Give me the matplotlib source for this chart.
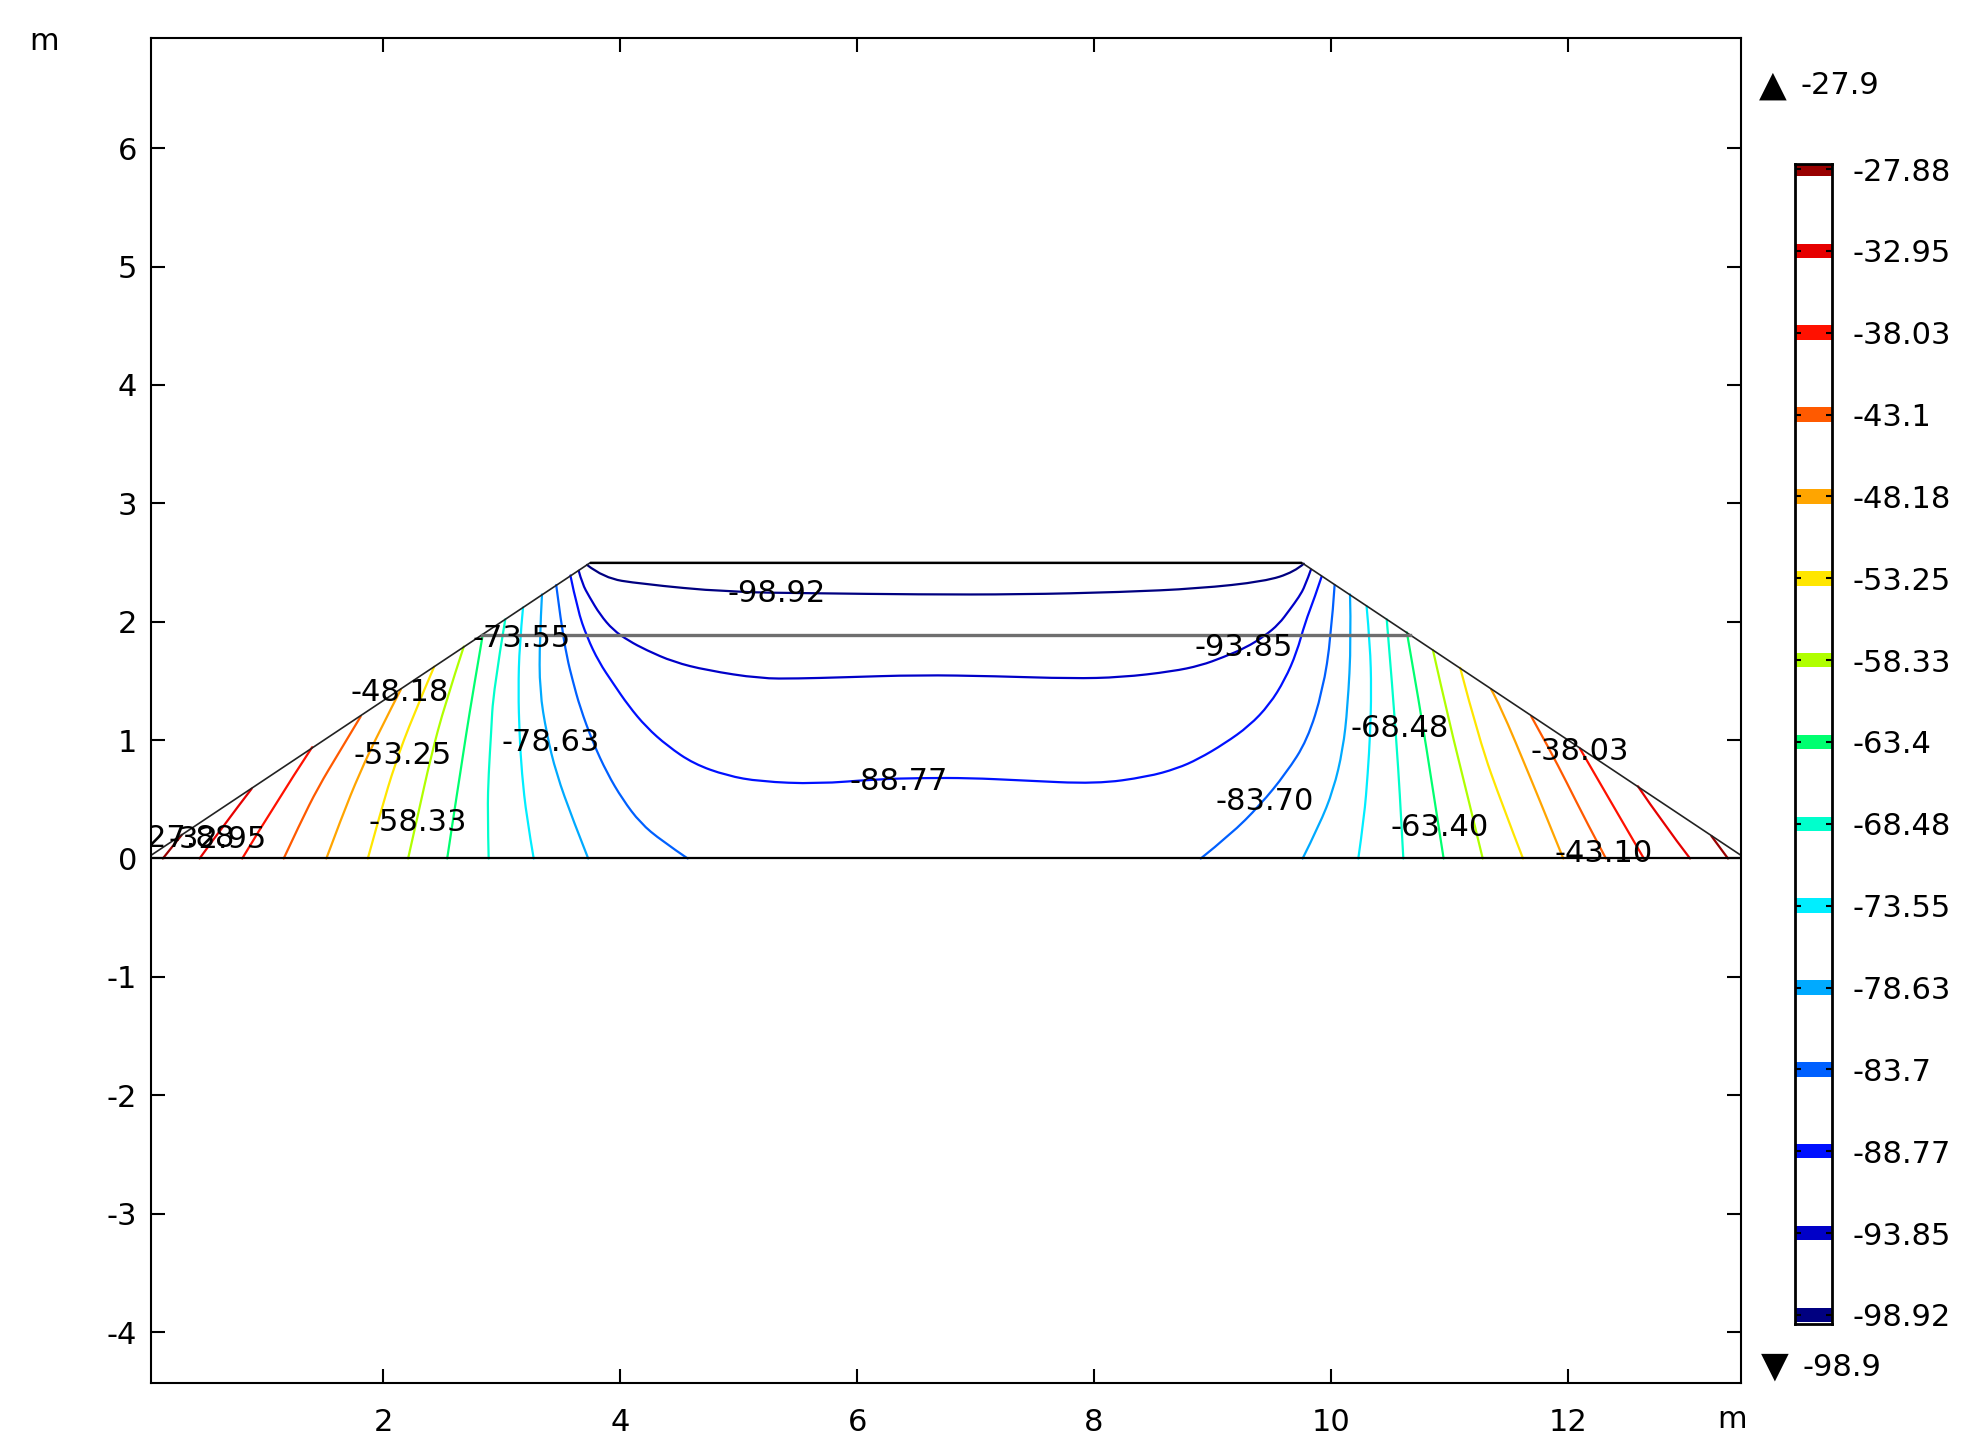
import numpy as np
import matplotlib.pyplot as plt
from matplotlib.path import Path
from matplotlib.patches import PathPatch

# contour levels (colour legend, top to bottom) and their colours
levels = [-27.88, -32.95, -38.03, -43.1, -48.18, -53.25, -58.33, -63.4,
          -68.48, -73.55, -78.63, -83.7, -88.77, -93.85, -98.92]
level_labels = ["-27.88", "-32.95", "-38.03", "-43.1", "-48.18", "-53.25", "-58.33",
                "-63.4", "-68.48", "-73.55", "-78.63", "-83.7", "-88.77", "-93.85", "-98.92"]
level_colors = ["#990000", "#e60000", "#ff1100", "#ff5a00", "#ffa500", "#ffe600", "#b0ff00",
                "#00ff70", "#00ffcc", "#00eeff", "#00aaff", "#0060ff", "#0010ff", "#0000c8", "#000080"]
max_text = "-27.9"
min_text = "-98.9"

# dam geometry (m)
dam_x = [0.0, 3.75, 9.75, 13.5]
dam_y = [0.0, 2.5, 2.5, 0.0]
layer_x = [2.835, 10.665]
layer_y = [1.89, 1.89]

# contour lines, (x, y) in m
# upstream (left) slope
c27_88_l = [(0.14, 0.0), (0.22, 0.10), (0.30, 0.20)]
c32_95_l = [(0.45, 0.0), (0.66, 0.29), (0.89, 0.59)]
c38_03_l = [(0.81, 0.0), (1.08, 0.45), (1.40, 0.94)]
c43_10_l = [(1.16, 0.0), (1.30, 0.30), (1.45, 0.60), (1.63, 0.90), (1.81, 1.20)]
c48_18_l = [(1.52, 0.0), (1.65, 0.35), (1.80, 0.72), (1.97, 1.08), (2.15, 1.43)]
c53_25_l = [(1.87, 0.0), (1.98, 0.40), (2.10, 0.80), (2.25, 1.20), (2.43, 1.62)]
c58_33_l = [(2.21, 0.0), (2.30, 0.40), (2.40, 0.85), (2.52, 1.30), (2.68, 1.79)]
c63_40_l = [(2.54, 0.0), (2.60, 0.40), (2.65, 0.72), (2.70, 1.05), (2.76, 1.42), (2.84, 1.89)]
c68_48_l = [(2.89, 0.0), (2.88, 0.40), (2.89, 0.72), (2.91, 1.05), (2.93, 1.42), (3.03, 2.02)]
c73_55_l = [(3.27, 0.0), (3.21, 0.35), (3.17, 0.72), (3.15, 1.05), (3.14, 1.42), (3.15, 1.80), (3.18, 2.12)]
c78_63_l = [(3.73, 0.0), (3.60, 0.33), (3.46, 0.72), (3.38, 1.05), (3.32, 1.42), (3.32, 1.85), (3.34, 2.23)]
c83_70_l = [(4.57, 0.0), (4.35, 0.15), (4.17, 0.30), (4.02, 0.50), (3.89, 0.72), (3.77, 0.98),
            (3.66, 1.28), (3.60, 1.50), (3.55, 1.70), (3.50, 2.00), (3.46, 2.31)]

# crest / core lines crossing the section
c88_77 = [(3.58, 2.39), (3.64, 2.10), (3.72, 1.87), (3.82, 1.66), (3.94, 1.48), (4.07, 1.29),
          (4.22, 1.11), (4.40, 0.95), (4.62, 0.80), (4.90, 0.70), (5.18, 0.65), (5.66, 0.63),
          (6.17, 0.67), (6.55, 0.68), (6.95, 0.68), (7.38, 0.66), (8.02, 0.63), (8.45, 0.69),
          (8.70, 0.76), (8.88, 0.84), (9.10, 0.97), (9.31, 1.12), (9.48, 1.30), (9.61, 1.51),
          (9.71, 1.74), (9.78, 1.99), (9.86, 2.20), (9.92, 2.38)]
c93_85 = [(3.65, 2.43), (3.68, 2.32), (3.74, 2.21), (3.83, 2.06), (3.94, 1.93), (4.07, 1.84),
          (4.22, 1.76), (4.45, 1.66), (4.73, 1.59), (5.18, 1.52), (5.50, 1.52), (5.87, 1.53),
          (6.52, 1.55), (7.16, 1.54), (7.81, 1.52), (8.23, 1.53), (8.66, 1.58), (8.90, 1.63),
          (9.09, 1.70), (9.28, 1.78), (9.44, 1.88), (9.56, 1.98), (9.65, 2.10), (9.73, 2.21),
          (9.78, 2.30), (9.83, 2.44)]
c98_92 = [(3.72, 2.48), (3.86, 2.37), (4.17, 2.32), (4.90, 2.25), (5.66, 2.24), (6.52, 2.23),
          (7.38, 2.23), (8.23, 2.25), (8.88, 2.28), (9.44, 2.34), (9.69, 2.42), (9.77, 2.49)]

# downstream (right) slope
c83_70_r = [(8.90, 0.0), (9.15, 0.20), (9.40, 0.45), (9.62, 0.72), (9.80, 1.00), (9.93, 1.42),
            (10.00, 1.87), (10.03, 2.31)]
c78_63_r = [(9.76, 0.0), (9.90, 0.28), (10.02, 0.58), (10.10, 0.92), (10.14, 1.28), (10.17, 1.85),
            (10.16, 2.23)]
c73_55_r = [(10.23, 0.0), (10.28, 0.35), (10.31, 0.72), (10.33, 1.05), (10.34, 1.42), (10.33, 1.80),
            (10.30, 2.13)]
c68_48_r = [(10.61, 0.0), (10.59, 0.36), (10.57, 0.72), (10.52, 1.42), (10.47, 2.02)]
c63_40_r = [(10.95, 0.0), (10.86, 0.58), (10.75, 1.28), (10.64, 1.91)]
c58_33_r = [(11.28, 0.0), (11.14, 0.58), (11.00, 1.14), (10.86, 1.76)]
c53_25_r = [(11.62, 0.0), (11.45, 0.44), (11.25, 1.00), (11.09, 1.61)]
c48_18_r = [(11.96, 0.0), (11.83, 0.32), (11.70, 0.64), (11.42, 1.31), (11.35, 1.43)]
c43_10_r = [(12.32, 0.0), (12.15, 0.32), (11.99, 0.64), (11.84, 0.93), (11.69, 1.20)]
c38_03_r = [(12.64, 0.0), (12.32, 0.55), (12.10, 0.93)]
c32_95_r = [(13.03, 0.0), (12.80, 0.30), (12.59, 0.61)]
c27_88_r = [(13.35, 0.0), (13.21, 0.19)]

# inline labels
label_text = ["-27.88", "-32.95", "-38.03", "-43.10", "-48.18", "-53.25", "-58.33", "-63.40",
              "-68.48", "-73.55", "-78.63", "-83.70", "-88.77", "-93.85", "-98.92"]
label_x = [0.33, 0.60, 12.10, 12.30, 2.14, 2.16, 2.29, 10.92, 10.58, 3.17, 3.41, 9.44, 6.35, 9.26, 5.32]
label_y = [0.17, 0.16, 0.90, 0.04, 1.40, 0.87, 0.30, 0.26, 1.10, 1.86, 0.98, 0.48, 0.65, 1.78, 2.24]

lines = [
    [c27_88_l, c27_88_r], [c32_95_l, c32_95_r], [c38_03_l, c38_03_r], [c43_10_l, c43_10_r],
    [c48_18_l, c48_18_r], [c53_25_l, c53_25_r], [c58_33_l, c58_33_r], [c63_40_l, c63_40_r],
    [c68_48_l, c68_48_r], [c73_55_l, c73_55_r], [c78_63_l, c78_63_r], [c83_70_l, c83_70_r],
    [c88_77], [c93_85], [c98_92],
]

plt.rcParams['font.family'] = ['DejaVu Sans']
plt.rcParams['axes.unicode_minus'] = False
FS = 22
W, H = 1971, 1450


def smooth_path(pts):
    # quadratic segments through the midpoints, read points used as control points
    p = np.array(pts, dtype=float)
    if len(p) < 3:
        return Path(p)
    verts = [p[0]]
    codes = [Path.MOVETO]
    for i in range(1, len(p) - 1):
        end = p[i + 1] if i == len(p) - 2 else (p[i] + p[i + 1]) / 2
        verts += [p[i], end]
        codes += [Path.CURVE3, Path.CURVE3]
    return Path(verts, codes)


fig = plt.figure(figsize=(W / 100, H / 100), dpi=100)
ax = fig.add_axes([151 / W, 1 - 1383 / H, 1590 / W, 1345 / H])

for col, pieces in zip(level_colors, lines):
    for pts in pieces:
        ax.add_patch(PathPatch(smooth_path(pts), fill=False, edgecolor=col, lw=1.6,
                               capstyle='round', joinstyle='round'))

# geometry
ax.plot(dam_x, dam_y, color='#222222', lw=1.2)
ax.plot(dam_x[1:3], dam_y[1:3], color='black', lw=1.6)
ax.axhline(0, color='black', lw=1.6)
ax.plot(layer_x, layer_y, color='#6e6e6e', lw=2.4)

for t, x, y in zip(label_text, label_x, label_y):
    ax.text(x, y, t, fontsize=FS, ha='center', va='center', clip_on=True)

ax.set_xlim(0.04, 13.46)
ax.set_ylim(-4.43, 6.93)
ax.set_xticks([2, 4, 6, 8, 10, 12])
ax.set_yticks([-4, -3, -2, -1, 0, 1, 2, 3, 4, 5, 6])
ax.tick_params(direction='in', length=10, width=1.5, top=True, right=True, labelsize=FS)
ax.tick_params(axis='x', pad=18)
ax.tick_params(axis='y', pad=10)
for s in ax.spines.values():
    s.set_linewidth(1.5)

fig.text(44 / W, 1 - 41 / H, "m", fontsize=FS, ha='center', va='center')
fig.text(1732 / W, 1 - 1420 / H, "m", fontsize=FS, ha='center', va='center')

# colour legend
cax = fig.add_axes([1795 / W, 1 - 1324 / H, 37 / W, 1160 / H])
for lev, col in zip(levels, level_colors):
    cax.axhspan(lev - 0.45, lev + 0.45, color=col, lw=0)
cax.set_ylim(-99.48, -27.57)
cax.set_xlim(0, 1)
cax.set_xticks([])
cax.set_yticks(levels)
cax.set_yticklabels(level_labels)
cax.tick_params(axis='y', direction='in', length=4, width=1.5, left=True, right=True,
                labelleft=False, labelright=True, labelsize=FS, pad=15)
for s in cax.spines.values():
    s.set_linewidth(2)

fig.text(1773 / W, 1 - 86 / H, "\u25B2", fontsize=26, ha='center', va='center')
fig.text(1800 / W, 1 - 86 / H, max_text, fontsize=FS, ha='left', va='center')
fig.text(1775 / W, 1 - 1367 / H, "\u25BC", fontsize=26, ha='center', va='center')
fig.text(1802 / W, 1 - 1367 / H, min_text, fontsize=FS, ha='left', va='center')

fig.savefig("out.png", dpi=100)
